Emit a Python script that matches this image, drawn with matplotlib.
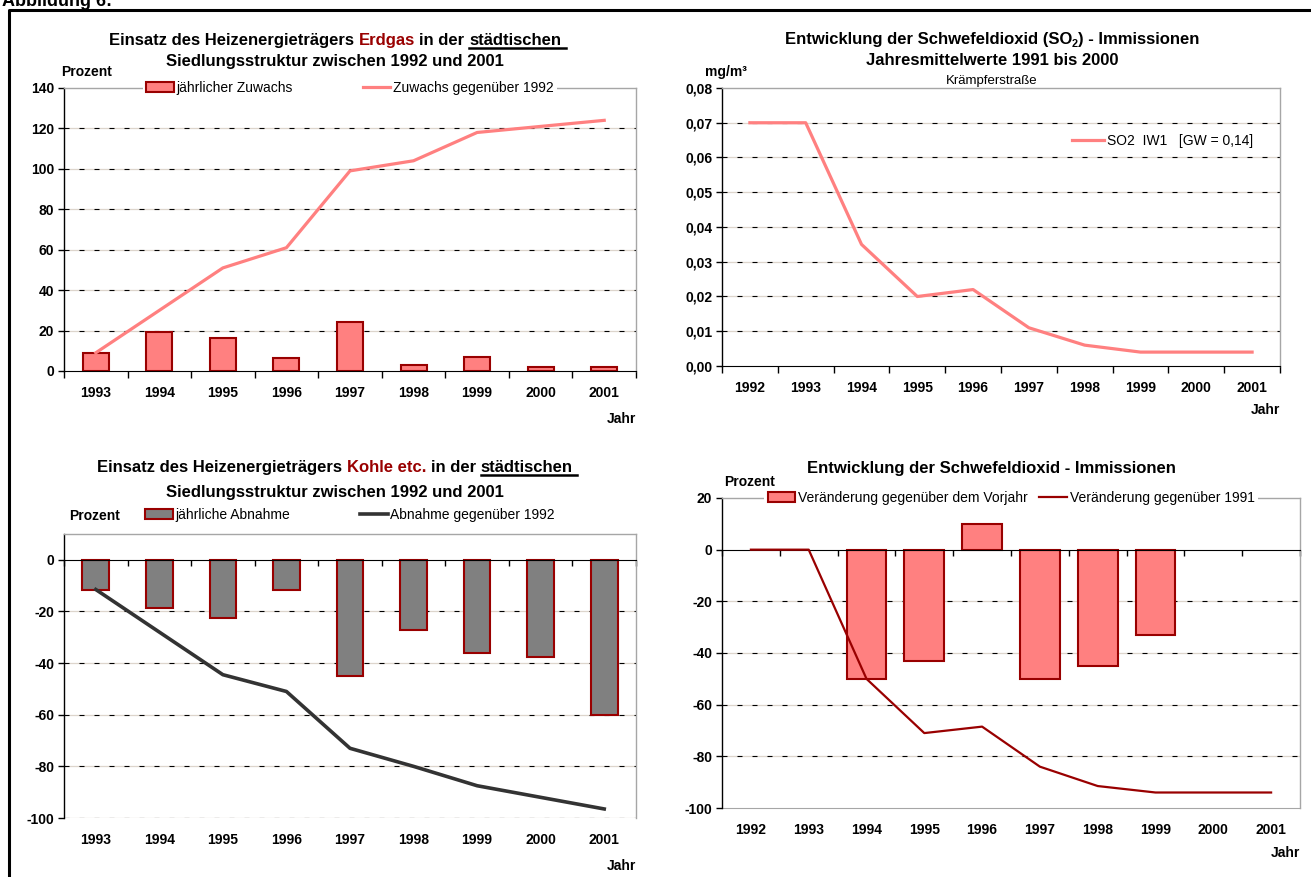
import numpy as np
import matplotlib
matplotlib.use("Agg")
import matplotlib.pyplot as plt
from matplotlib.lines import Line2D
from matplotlib.patches import Patch

plt.rcParams['font.family'] = ['Liberation Sans', 'DejaVu Sans']

W, H = 1311, 877

# ---- data ----
years_gas = ['1993', '1994', '1995', '1996', '1997', '1998', '1999', '2000', '2001']
gas_yearly = [9, 19.5, 16.5, 6.5, 24, 3, 7, 2, 2]
gas_since_1992 = [9, 30, 51, 61, 99, 104, 118, 121, 124]

years_so2 = ['1992', '1993', '1994', '1995', '1996', '1997', '1998', '1999', '2000', '2001']
so2_iw1 = [0.07, 0.07, 0.035, 0.02, 0.022, 0.011, 0.006, 0.004, 0.004, 0.004]

years_coal = years_gas
coal_yearly = [-11.5, -18.5, -22.5, -11.5, -45, -27, -36, -37.5, -60]
coal_since_1992 = [-11.5, -28, -44.5, -51, -73, -80, -87.5, -92, -96.5]

so2_change_prev = [np.nan, np.nan, -50, -43, 10, -50, -45, -33, np.nan, np.nan]
so2_change_1991 = [0, 0, -50, -71, -68.5, -84, -91.5, -94, -94, -94]

PINK = '#FF8080'
DARKRED = '#990000'
GREY_BAR = '#808080'
DARK_LINE = '#333333'
FRAME = '#A6A6A6'

TICK_FS = 10
LEG_FS = 10
TITLE_FS = 12

fig = plt.figure(figsize=(W / 100, H / 100), dpi=100)


def place(l, t, r, b):
    return fig.add_axes([l / W, 1 - b / H, (r - l) / W, (b - t) / H])


def style(ax, labels, ylim, yticks, ylabels, grid_vals, zero_axis=False, bottom_color=None):
    n = len(labels)
    ax.set_xlim(-0.5, n - 0.5)
    ax.set_ylim(*ylim)
    ax.set_yticks(yticks, ylabels, fontsize=TICK_FS, fontweight='bold')
    ax.tick_params(axis='y', length=4, width=1, pad=3, colors='black')
    for s in ('top', 'right'):
        ax.spines[s].set_color(FRAME)
        ax.spines[s].set_linewidth(1)
    ax.spines['left'].set_color('black')
    ax.spines['left'].set_linewidth(1)
    for v in grid_vals:
        ax.axhline(v, color='#DDD5CC', lw=0.9, zorder=0.5)
        ax.axhline(v, color='black', lw=0.8, ls=(0, (4.5, 9)), zorder=0.6)
    bounds = np.arange(n + 1) - 0.5
    ax.spines['bottom'].set_color('black')
    ax.set_xticks(bounds, [''] * (n + 1))
    if zero_axis:
        ax.spines['bottom'].set_position(('data', 0))
        ax.tick_params(axis='x', length=4, width=1)
    else:
        ax.tick_params(axis='x', length=5, width=1)
    sec = ax.secondary_xaxis('bottom')
    if zero_axis and bottom_color:
        sec.spines['bottom'].set_color(bottom_color)
    else:
        sec.spines['bottom'].set_visible(False)
    sec.set_xticks(range(n), labels, fontsize=TICK_FS, fontweight='bold')
    sec.tick_params(axis='x', length=0, pad=11)
    return sec


def rich_line(xc, y, parts, size=TITLE_FS):
    """parts: (text, color, underline, subscript, space_before)"""
    r = fig.canvas.get_renderer()

    def width(s, fs):
        t = fig.text(0, 0, s, fontsize=fs, fontweight='bold')
        w = t.get_window_extent(r).width
        t.remove()
        return w

    sp = width('x x', size) - width('xx', size)
    items = []
    total = 0
    for txt, col, ul, sub, gap in parts:
        fs = size * 0.65 if sub else size
        w = width(txt, fs)
        g = sp if gap else 0
        items.append((txt, col, ul, sub, g, w, fs))
        total += g + w
    x = xc - total / 2
    for txt, col, ul, sub, g, w, fs in items:
        x += g
        yy = y + (3 if sub else 0)
        fig.text(x / W, 1 - yy / H, txt, fontsize=fs, fontweight='bold', color=col,
                 va='baseline', ha='left')
        if ul:
            fig.add_artist(Line2D([x / W, (x + w + sp) / W], [1 - (y + 2.5) / H] * 2,
                                  transform=fig.transFigure, color='black', lw=1.8))
        x += w


# ---- outer frame ----
fig.add_artist(Line2D([9 / W, 9 / W, 1], [0, 1 - 10 / H, 1 - 10 / H],
                      transform=fig.transFigure, color='black', lw=2.2))
fig.text(2 / W, 1 - 6 / H, 'Abbildung 6:', fontsize=13, fontweight='bold', va='baseline')

# ---- top left: Erdgas ----
ax1 = place(64, 88, 636, 371)
style(ax1, years_gas, (0, 140), range(0, 141, 20), [str(v) for v in range(0, 141, 20)],
      range(20, 121, 20))
x1 = np.arange(len(years_gas))
ax1.bar(x1, gas_yearly, width=0.41, color=PINK, edgecolor=DARKRED, lw=1.5, zorder=2)
ax1.plot(x1, gas_since_1992, color=PINK, lw=2.3, zorder=3)
ax1.legend([Patch(facecolor=PINK, edgecolor=DARKRED, lw=1.5),
            Line2D([], [], color=PINK, lw=2.3)],
           ['jährlicher Zuwachs', 'Zuwachs gegenüber 1992'],
           loc='center', bbox_to_anchor=(0.5, 1.0), ncol=2, fontsize=LEG_FS, frameon=True,
           framealpha=1, facecolor='white', edgecolor='none', fancybox=False,
           handlelength=2, handletextpad=0.2, columnspacing=5, borderpad=0.25)
rich_line(335, 45, [('Einsatz des Heizenergieträgers', 'black', False, False, False),
                    ('Erdgas', DARKRED, False, False, True),
                    ('in der', 'black', False, False, True),
                    ('städtischen', 'black', True, False, True)])
rich_line(335, 66, [('Siedlungsstruktur zwischen 1992 und 2001', 'black', False, False, False)])
fig.text(87 / W, 1 - 72 / H, 'Prozent', fontsize=TICK_FS, fontweight='bold', ha='center', va='center')
fig.text(636 / W, 1 - 419 / H, 'Jahr', fontsize=TICK_FS, fontweight='bold', ha='right', va='center')

# ---- top right: SO2 ----
ax2 = place(722, 88, 1280, 366)
so2_ticks = np.arange(0, 0.081, 0.01)
style(ax2, years_so2, (0, 0.08), so2_ticks, [f'{v:.2f}'.replace('.', ',') for v in so2_ticks],
      so2_ticks[1:-1])
x2 = np.arange(len(years_so2))
ax2.plot(x2, so2_iw1, color=PINK, lw=2.3, zorder=3)
ax2.legend([Line2D([], [], color=PINK, lw=2.3)], ['SO2  IW1   [GW = 0,14]'],
           loc='center', bbox_to_anchor=(0.79, 0.81), fontsize=LEG_FS, frameon=True, framealpha=1,
           facecolor='white', edgecolor='none', handlelength=2.3, handletextpad=0.2,
           borderpad=0.3)
rich_line(992, 44, [('Entwicklung der Schwefeldioxid (SO', 'black', False, False, False),
                    ('2', 'black', False, True, False),
                    (') - Immissionen', 'black', False, False, False)])
rich_line(992, 65, [('Jahresmittelwerte 1991 bis 2000', 'black', False, False, False)])
fig.text(992 / W, 1 - 81 / H, 'Krämpferstraße', fontsize=9.5, ha='center', va='center')
fig.text(726 / W, 1 - 72 / H, 'mg/m³', fontsize=TICK_FS, fontweight='bold', ha='center', va='center')
fig.text(1280 / W, 1 - 410 / H, 'Jahr', fontsize=TICK_FS, fontweight='bold', ha='right', va='center')

# ---- bottom left: Kohle ----
ax3 = place(64, 534, 636, 818)
style(ax3, years_coal, (-100, 10), range(-100, 1, 20), [str(v) for v in range(-100, 1, 20)],
      range(-100, -19, 20), zero_axis=True)
x3 = np.arange(len(years_coal))
ax3.bar(x3, coal_yearly, width=0.42, color=GREY_BAR, edgecolor=DARKRED, lw=1.5, zorder=2)
ax3.plot(x3, coal_since_1992, color=DARK_LINE, lw=2.6, zorder=3)
ax3.legend([Patch(facecolor=GREY_BAR, edgecolor=DARKRED, lw=1.5),
            Line2D([], [], color=DARK_LINE, lw=2.6)],
           ['jährliche Abnahme', 'Abnahme gegenüber 1992'],
           loc='center', bbox_to_anchor=(0.5, 1.067), ncol=2, fontsize=LEG_FS, frameon=False,
           handlelength=2, handletextpad=0.2, columnspacing=5)
rich_line(335, 472, [('Einsatz des Heizenergieträgers', 'black', False, False, False),
                     ('Kohle etc.', DARKRED, False, False, True),
                     ('in der', 'black', False, False, True),
                     ('städtischen', 'black', True, False, True)])
rich_line(335, 497, [('Siedlungsstruktur zwischen 1992 und 2001', 'black', False, False, False)])
fig.text(95 / W, 1 - 516 / H, 'Prozent', fontsize=TICK_FS, fontweight='bold', ha='center', va='center')
fig.text(636 / W, 1 - 866 / H, 'Jahr', fontsize=TICK_FS, fontweight='bold', ha='right', va='center')

# ---- bottom right: SO2 change ----
ax4 = place(722, 498, 1300, 808)
style(ax4, years_so2, (-100, 20), range(-100, 21, 20), [str(v) for v in range(-100, 21, 20)],
      range(-80, -19, 20), zero_axis=True, bottom_color=FRAME)
x4 = np.arange(len(years_so2))
ax4.bar(x4, so2_change_prev, width=0.69, color=PINK, edgecolor=DARKRED, lw=1.5, zorder=2)
ax4.plot(x4, so2_change_1991, color=DARKRED, lw=1.6, zorder=3)
ax4.legend([Patch(facecolor=PINK, edgecolor=DARKRED, lw=1.5),
            Line2D([], [], color=DARKRED, lw=1.6)],
           ['Veränderung gegenüber dem Vorjahr', 'Veränderung gegenüber 1991'],
           loc='center', bbox_to_anchor=(0.5, 1.0), ncol=2, fontsize=LEG_FS, frameon=True,
           framealpha=1, facecolor='white', edgecolor='none', fancybox=False,
           handlelength=2, handletextpad=0.2, columnspacing=0.8, borderpad=0.25)
rich_line(991, 473, [('Entwicklung der Schwefeldioxid - Immissionen', 'black', False, False, False)])
fig.text(750 / W, 1 - 482 / H, 'Prozent', fontsize=TICK_FS, fontweight='bold', ha='center', va='center')
fig.text(1300 / W, 1 - 853 / H, 'Jahr', fontsize=TICK_FS, fontweight='bold', ha='right', va='center')

fig.savefig('out.png', dpi=100)
